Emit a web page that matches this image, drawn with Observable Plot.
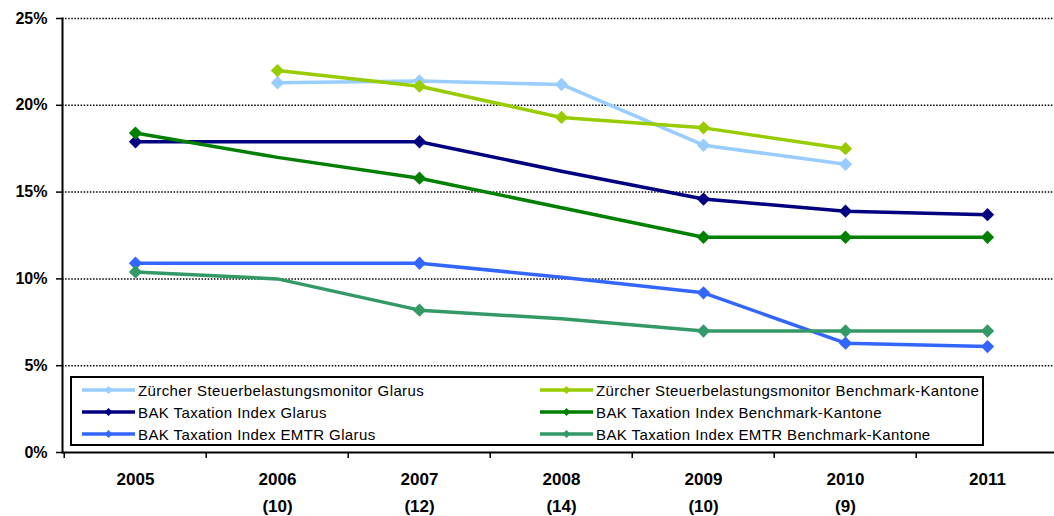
<!DOCTYPE html>
<html>
<head>
<meta charset="utf-8">
<script src="https://cdn.jsdelivr.net/npm/d3@7"></script>
<script src="https://cdn.jsdelivr.net/npm/@observablehq/plot@0.6"></script>
<style>
  html, body { margin: 0; padding: 0; background: #fff; }
  #wrap { position: relative; width: 1054px; height: 516px; overflow: hidden; }
  #chart svg { font-family: "Liberation Sans", Arial, sans-serif; }
  #legend {
    position: absolute; left: 70px; top: 376px; width: 910px; height: 66px;
    border: 2px solid #000; background: #fff;
    font-family: "Liberation Sans", Arial, sans-serif; font-size: 15px; letter-spacing: 0.4px;
    color: #000;
  }
  .item { position: absolute; display: flex; align-items: center; height: 20px; white-space: nowrap; }
  .item svg { margin-right: 3px; }
</style>
</head>
<body>
<div id="wrap">
  <div id="chart"></div>
  <div id="legend"></div>
</div>
<script>
// ---- data ----
const years = ["2005", "2006", "2007", "2008", "2009", "2010", "2011"];
const counts = ["", "(10)", "(12)", "(14)", "(10)", "(9)", ""];
const yTicks = [0, 5, 10, 15, 20, 25];

const seriesNames = [
  "Zürcher Steuerbelastungsmonitor Glarus",
  "Zürcher Steuerbelastungsmonitor Benchmark-Kantone",
  "BAK Taxation Index Glarus",
  "BAK Taxation Index Benchmark-Kantone",
  "BAK Taxation Index EMTR Glarus",
  "BAK Taxation Index EMTR Benchmark-Kantone"
];
const seriesColors = ["#99CCFF", "#99CC00", "#000080", "#008000", "#3366FF", "#339966"];

const zuerichGlarus    = [null, 21.3, 21.4, 21.2, 17.7, 16.6, null];
const zuerichBenchmark = [null, 22.0, 21.1, 19.3, 18.7, 17.5, null];
const bakGlarus        = [17.9, 17.9, 17.9, 16.2, 14.6, 13.9, 13.7];
const bakBenchmark     = [18.4, 17.0, 15.8, 14.1, 12.4, 12.4, 12.4];
const emtrGlarus       = [10.9, 10.9, 10.9, 10.1, 9.2, 6.3, 6.1];
const emtrBenchmark    = [10.4, 10.0, 8.2, 7.7, 7.0, 7.0, 7.0];

// years at which each series shows a marker
const zuerichMarkerYears = ["2006", "2007", "2008", "2009", "2010"];
const bakMarkerYears = ["2005", "2007", "2009", "2010", "2011"];

const seriesValues = [zuerichGlarus, zuerichBenchmark, bakGlarus, bakBenchmark, emtrGlarus, emtrBenchmark];
const seriesMarkers = [zuerichMarkerYears, zuerichMarkerYears, bakMarkerYears, bakMarkerYears, bakMarkerYears, bakMarkerYears];

// ---- build tables ----
const rows = [];
seriesNames.forEach((name, s) => {
  seriesValues[s].forEach((v, i) => {
    if (v != null) rows.push({series: name, year: years[i], value: v / 100, marker: seriesMarkers[s].includes(years[i])});
  });
});
const markerRows = rows.filter(d => d.marker);
const countByYear = new Map(years.map((y, i) => [y, counts[i]]));

const W = 1054, H = 516;
const xRange = [62, 1060];
const halfBand = (xRange[1] - xRange[0]) / years.length / 2;

const chart = Plot.plot({
  width: W,
  height: H,
  marginLeft: 62,
  marginRight: 0,
  marginTop: 18,
  marginBottom: 64,
  style: {background: "#fff", overflow: "visible"},
  x: {type: "band", domain: years, range: xRange, padding: 0, axis: null, label: null},
  y: {domain: [0, 0.25], axis: null, label: null},
  color: {domain: seriesNames, range: seriesColors},
  marks: [
    Plot.ruleY(yTicks.slice(1).map(d => d / 100), {stroke: "#000", strokeWidth: 1.5, strokeDasharray: "1.5,1.6"}),
    Plot.line(rows, {x: "year", y: "value", z: "series", stroke: "series", strokeWidth: 3.5, curve: "linear"}),
    Plot.dot(markerRows, {x: "year", y: "value", fill: "series", symbol: "diamond2", r: 6, stroke: "none"}),
    Plot.ruleY([0], {stroke: "#000", strokeWidth: 2}),
    Plot.frame({anchor: "left", stroke: "#000", strokeWidth: 2}),
    Plot.axisY(yTicks.map(d => d / 100), {
      label: null,
      tickSize: 6, tickPadding: 9, tickFormat: d => Math.round(d * 100) + "%",
      fontSize: 16, fontWeight: "bold", stroke: "#000", strokeWidth: 1.5, fill: "#000"
    }),
    Plot.axisX({label: null, tickSize: 6, tickFormat: () => "", dx: -halfBand, stroke: "#000", strokeWidth: 1.5}),
    Plot.axisX({label: null, tickSize: 0, tickPadding: 20, fontSize: 17, fontWeight: "bold", fill: "#000"}),
    Plot.axisX({label: null, tickSize: 0, tickPadding: 47, tickFormat: d => countByYear.get(d), fontSize: 17, fontWeight: "bold", fill: "#000"})
  ]
});
document.getElementById("chart").appendChild(chart);

// ---- legend ----
const legend = document.getElementById("legend");
const colLeft = [10, 468];
const rowTop = [2, 24, 46];
seriesNames.forEach((name, s) => {
  const col = s % 2, row = Math.floor(s / 2);
  const item = document.createElement("div");
  item.className = "item";
  item.style.left = colLeft[col] + "px";
  item.style.top = rowTop[row] + "px";
  const c = seriesColors[s];
  item.innerHTML = `<svg width="53" height="12"><line x1="0" y1="6" x2="53" y2="6" stroke="${c}" stroke-width="3.5"/><path d="M26.5 2 L30.5 6 L26.5 10 L22.5 6 Z" fill="${c}"/></svg><span>${name}</span>`;
  legend.appendChild(item);
});
</script>
</body>
</html>
